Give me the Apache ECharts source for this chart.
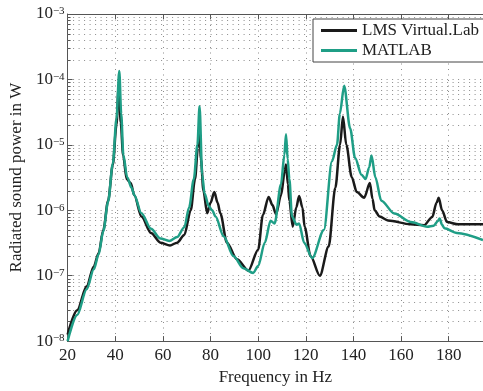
<!DOCTYPE html>
<html><head><meta charset="utf-8">
<script src="https://cdn.jsdelivr.net/npm/echarts@6/dist/echarts.min.js"></script>
<style>html,body{margin:0;padding:0;background:#fff}#c{width:483px;height:391px}</style>
</head><body><div id="c"></div>
<script>
// LMS Virtual.Lab (black)
const lmsFreq = [20,24,28,31,33,35,37,39,40.5,41.5,42.3,43.3,44.8,46.5,48,51,55,59,63,66,69,71.7,73.5,74.7,75.3,76,77,78.6,80,81.6,83,84.1,86.9,91,95.9,100,102,104.4,106,107.5,109.6,111.2,111.7,112.5,113.1,114.5,116,117.2,118.6,119.5,122,125.9,129.6,132.4,134.4,135.6,137,139.3,141.4,144.5,146.9,148,148.9,151,154.5,164,169.6,173.1,174.9,175.8,177.2,179.3,184,194.4];
const lmsPower = [1.26e-8,2.95e-8,6.9e-8,1.38e-7,2.2e-7,5e-7,1.4e-6,5e-6,2e-5,8.5e-5,2.2e-5,7e-6,3e-6,2.6e-6,1.7e-6,8e-7,4.5e-7,3.2e-7,2.9e-7,3.2e-7,4.2e-7,1e-6,3e-6,9e-6,1.8e-5,6e-6,2e-6,9e-7,1.3e-6,1.9e-6,1.3e-6,9e-7,3.2e-7,1.8e-7,1.2e-7,2.5e-7,8.5e-7,1.6e-6,1.2e-6,8.7e-7,1.7e-6,4e-6,5e-6,2.5e-6,1.4e-6,5.6e-7,1.1e-6,1.65e-6,1.1e-6,5.6e-7,2e-7,1e-7,2.8e-7,2.2e-6,1e-5,2.7e-5,1e-5,3.2e-6,1.9e-6,1.55e-6,2.6e-6,1.5e-6,1e-6,8e-7,7e-7,6.1e-7,5.9e-7,7.9e-7,1.3e-6,1.55e-6,1e-6,6.6e-7,6.1e-7,6.1e-7];
// MATLAB (teal)
const matFreq = [20,24,28,31,33,35,37,39,40.5,41.7,42.5,43.4,45,46.9,48,51,55,59,62.7,66,69,71,73,74.5,75.4,76.5,77.5,79.3,80.7,82.1,85.5,89.6,93.8,97.9,100,102.8,105.2,106.9,109.6,111,111.7,112.4,113.1,114.2,116.2,117.2,119.3,122.7,127.6,131,133.1,134.3,136.1,138.6,140.7,143.4,145.1,146.6,147.6,149.2,151.7,157.2,164.1,171,173.7,175.4,176.2,177.2,178.2,183.4,194.4];
const matPower = [1e-8,2.5e-8,6.2e-8,1.25e-7,2.1e-7,4.8e-7,1.35e-6,5.2e-6,2.5e-5,1.35e-4,3e-5,7e-6,3.2e-6,2.2e-6,1.7e-6,9e-7,5.2e-7,3.7e-7,3.4e-7,3.9e-7,5.5e-7,1.1e-6,3e-6,1e-5,3.9e-5,3.5e-6,1.8e-6,1.15e-6,1e-6,8e-7,4e-7,2e-7,1.3e-7,1.1e-7,1.4e-7,3.2e-7,6.9e-7,6.3e-7,2.5e-6,7e-6,1.45e-5,6e-6,3e-6,8e-7,6e-7,6.3e-7,3.2e-7,1.86e-7,5e-7,5.6e-6,1e-5,3e-5,8e-5,1.8e-5,6.3e-6,3.5e-6,3e-6,4.5e-6,6.9e-6,3.2e-6,1.4e-6,8.9e-7,6.6e-7,5.6e-7,5.8e-7,6.8e-7,7.5e-7,6e-7,5.3e-7,4.5e-7,3.5e-7];
const seriesNames = ['LMS Virtual.Lab', 'MATLAB'];
const xTicks = [20,40,60,80,100,120,140,160,180];
const decades = [1e-8,1e-7,1e-6,1e-5,1e-4];
const minorMantissas = [2,3,4,5,6,7,8,9];

const FONT = "'Liberation Serif','Times New Roman',serif";
const minorValues = [];
decades.forEach(d => minorMantissas.forEach(m => minorValues.push(m * d)));

const chart = echarts.init(document.getElementById('c'), null, {renderer: 'canvas'});
const axisColor = '#555';
const gridColor = '#8c8c8c';
const gridDash = {type: [1, 4.5], color: gridColor, width: 1};
chart.setOption({
  animation: false,
  backgroundColor: '#fff',
  grid: {left: 62, right: 0, top: 14, bottom: 45, containLabel: false},
  legend: {
    data: seriesNames, orient: 'vertical', left: 313, top: 19,
    padding: [3, 8, 3, 8], itemGap: 3, itemWidth: 36, itemHeight: 3, icon: 'rect',
    borderColor: '#444', borderWidth: 1, backgroundColor: '#fff',
    textStyle: {fontSize: 17, lineHeight: 16.5, fontFamily: FONT, color: '#222'}
  },
  xAxis: [{
    type: 'value', min: xTicks[0], max: 194.4, interval: 20, position: 'bottom',
    axisLine: {show: true, lineStyle: {color: axisColor, width: 1}},
    axisTick: {inside: true, length: 5, lineStyle: {color: axisColor}},
    axisLabel: {margin: 6, fontSize: 17, fontFamily: FONT, color: '#222', showMaxLabel: false,
      formatter: v => xTicks.indexOf(v) >= 0 ? String(v) : ''},
    splitLine: {show: true, lineStyle: gridDash},
    name: 'Frequency in Hz', nameLocation: 'middle', nameGap: 23,
    nameTextStyle: {fontSize: 17, fontFamily: FONT, color: '#222'}
  }, {
    type: 'value', min: xTicks[0], max: 194.4, interval: 20, position: 'top',
    axisLine: {show: true, lineStyle: {color: axisColor, width: 1}},
    axisTick: {inside: true, length: 5, lineStyle: {color: axisColor}},
    axisLabel: {show: false}, splitLine: {show: false}
  }],
  yAxis: {
    type: 'log', logBase: 10, min: 1e-8, max: 1e-3,
    axisLine: {show: true, lineStyle: {color: axisColor, width: 1}},
    axisTick: {show: true, inside: true, length: 5, lineStyle: {color: axisColor}},
    axisLabel: {
      margin: 3, fontFamily: FONT, color: '#222',
      formatter: v => {
        const e = Math.round(Math.log10(v));
        return '{a|10}{b|\u2212' + (-e) + '}';
      },
      rich: {
        a: {fontSize: 17, fontFamily: FONT, color: '#222', lineHeight: 16, padding: [4, 0, 4, 0]},
        b: {fontSize: 11, fontFamily: FONT, color: '#222', lineHeight: 11, verticalAlign: 'top'}
      }
    },
    splitLine: {show: true, lineStyle: gridDash},
    name: 'Radiated sound power in W', nameLocation: 'middle', nameGap: 40,
    nameTextStyle: {fontSize: 17, fontFamily: FONT, color: '#222'}
  },
  series: [{
    type: 'custom', name: 'minorGrid', silent: true, z: 1,
    data: minorValues.map(v => [xTicks[0], v]),
    renderItem: (params, api) => {
      const y = Math.round(api.coord([api.value(0), api.value(1)])[1]) + 0.5;
      const cs = params.coordSys;
      return {type: 'group', children: [
        {type: 'line', shape: {x1: cs.x, y1: y, x2: cs.x + cs.width, y2: y},
          style: {stroke: gridColor, lineWidth: 1, lineDash: [1, 4.5]}},
        {type: 'line', shape: {x1: cs.x, y1: y, x2: cs.x + 3, y2: y},
          style: {stroke: axisColor, lineWidth: 1}}
      ]};
    }
  }, {
    type: 'line', name: seriesNames[0], z: 3,
    data: lmsFreq.map((f, i) => [f, lmsPower[i]]),
    symbol: 'none', showSymbol: false, smooth: 0.3, smoothMonotone: 'x',
    lineStyle: {color: '#1a1a1a', width: 2.5}, itemStyle: {color: '#1a1a1a'}
  }, {
    type: 'line', name: seriesNames[1], z: 4,
    data: matFreq.map((f, i) => [f, matPower[i]]),
    symbol: 'none', showSymbol: false, smooth: 0.3, smoothMonotone: 'x',
    lineStyle: {color: '#1f9e86', width: 2.5}, itemStyle: {color: '#1f9e86'}
  }]
});
</script></body></html>
